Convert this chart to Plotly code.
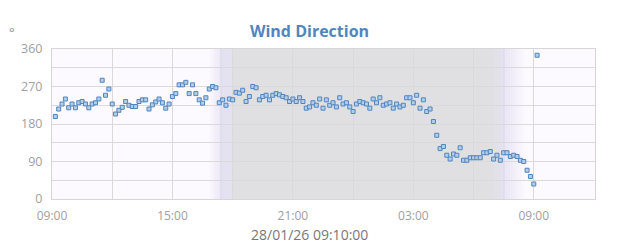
import pandas as pd
import plotly.graph_objects as go

# ---- data ----
start_time = "2026-01-27 09:10"
interval = "10min"
wind_dir = [
    198, 216, 228, 240, 219, 228, 219, 231, 234, 228,
    219, 228, 231, 240, 285, 249, 264, 228, 204, 213,
    220, 234, 225, 222, 222, 234, 238, 238, 216, 226,
    233, 240, 231, 218, 228, 246, 253, 274, 274, 280,
    253, 274, 253, 238, 230, 243, 264, 270, 267, 231,
    238, 225, 240, 238, 256, 254, 261, 234, 246, 270,
    267, 238, 246, 249, 238, 249, 253, 250, 246, 243,
    234, 240, 234, 243, 234, 218, 221, 231, 225, 240,
    218, 238, 225, 231, 221, 243, 228, 231, 221, 210,
    228, 234, 231, 228, 218, 240, 231, 243, 225, 228,
    231, 218, 228, 221, 225, 243, 243, 231, 249, 218,
    238, 210, 216, 186, 153, 121, 126, 105, 96, 108,
    105, 123, 93, 93, 99, 99, 99, 99, 111, 111,
    114, 96, 105, 93, 111, 111, 102, 105, 102, 93,
    90, 69, 54, 36, 345,
]
times = pd.date_range(start_time, periods=len(wind_dir), freq=interval)

x_range = ["2026-01-27 09:00", "2026-01-28 12:03"]
y_ticks = [0, 90, 180, 270, 360]
title_text = "Wind Direction"
subtitle_text = "28/01/26 09:10:00"
unit_text = "°"

# twilight / night band times
dusk_fade_start = pd.Timestamp("2026-01-27 16:49")
sunset = pd.Timestamp("2026-01-27 17:25")
night_start = pd.Timestamp("2026-01-27 18:00")
night_end = pd.Timestamp("2026-01-28 06:49")
sunrise = pd.Timestamp("2026-01-28 07:31")
dawn_fade_end = pd.Timestamp("2026-01-28 08:37")

BG = (252, 250, 255)
LAV = (232, 228, 245)
LAV2 = (228, 226, 240)
GRAY = (224, 224, 226)


def rgb(c):
    return "rgb(%d,%d,%d)" % c


def mix(a, b, f):
    return tuple(round(a[i] + (b[i] - a[i]) * f) for i in range(3))


shapes = []


def gradient(t0, t1, c0, c1, n=14):
    span = (t1 - t0) / n
    for k in range(n):
        f = (k + 0.5) / n
        shapes.append(dict(type="rect", xref="x", yref="paper",
                           x0=t0 + span * k, x1=t0 + span * (k + 1) + pd.Timedelta("30s"),
                           y0=0, y1=1, fillcolor=rgb(mix(c0, c1, f)),
                           line=dict(width=0), layer="below"))


gradient(dusk_fade_start, sunset, BG, LAV)
shapes.append(dict(type="rect", xref="x", yref="paper", x0=sunset, x1=night_start,
                   y0=0, y1=1, fillcolor=rgb(LAV2), line=dict(width=0), layer="below"))
shapes.append(dict(type="rect", xref="x", yref="paper", x0=night_start, x1=night_end,
                   y0=0, y1=1, fillcolor=rgb(GRAY), line=dict(width=0), layer="below"))
gradient(night_end, sunrise, GRAY, LAV2)
gradient(sunrise, dawn_fade_end, LAV, BG)
for t in (sunset, sunrise):
    shapes.append(dict(type="line", xref="x", yref="paper", x0=t, x1=t, y0=0, y1=1,
                       line=dict(color="rgb(220,218,232)", width=1), layer="below"))

fig = go.Figure()
fig.add_trace(go.Scatter(
    x=times, y=wind_dir, mode="markers",
    marker=dict(symbol="square", size=4, color="#b3cde9",
                line=dict(color="#4f86c0", width=1)),
    hoverinfo="x+y", showlegend=False,
))

font_family = "Open Sans, sans-serif"
fig.update_layout(
    width=618, height=248,
    margin=dict(l=52, r=23, t=49, b=49),
    paper_bgcolor="white",
    plot_bgcolor=rgb(BG),
    font=dict(family=font_family, color="#999999", size=12),
    shapes=shapes,
    showlegend=False,
    annotations=[
        dict(text="<b>" + title_text + "</b>", xref="paper", yref="paper",
             x=0.474, y=1.0, yshift=18, xanchor="center", yanchor="middle",
             showarrow=False, font=dict(size=16, color="#4f86c0", family=font_family)),
        dict(text=subtitle_text, xref="paper", yref="paper",
             x=0.474, y=0, yshift=-35, xanchor="center", yanchor="middle",
             showarrow=False, font=dict(size=14, color="#777777", family=font_family)),
        dict(text=unit_text, xref="paper", yref="paper",
             x=0, xshift=-40, y=1.0, yshift=17, xanchor="center", yanchor="middle",
             showarrow=False, font=dict(size=13, color="#888888", family=font_family)),
    ],
)
fig.update_xaxes(
    type="date", range=x_range,
    tick0="2026-01-27 09:00", dtick=6 * 3600 * 1000, tickformat="%H:%M",
    showgrid=True, gridcolor="#dadada", gridwidth=1,
    minor=dict(dtick=3 * 3600 * 1000, showgrid=True, gridcolor="#dadada", gridwidth=1),
    showline=True, linecolor="#d6d6d6", linewidth=1, mirror=True,
    ticks="", ticklabelstandoff=6, tickfont=dict(size=12, color="#a0a0a0"), zeroline=False,
)
fig.update_yaxes(
    range=[0, 360], tickvals=y_ticks,
    showgrid=True, gridcolor="#dadada", gridwidth=1,
    minor=dict(dtick=45, showgrid=True, gridcolor="#dadada", gridwidth=1),
    showline=True, linecolor="#d6d6d6", linewidth=1, mirror=True,
    ticks="", ticklabelstandoff=6, tickfont=dict(size=12.5, color="#a0a0a0"),
    zeroline=False,
)

fig.write_html("out.html")
